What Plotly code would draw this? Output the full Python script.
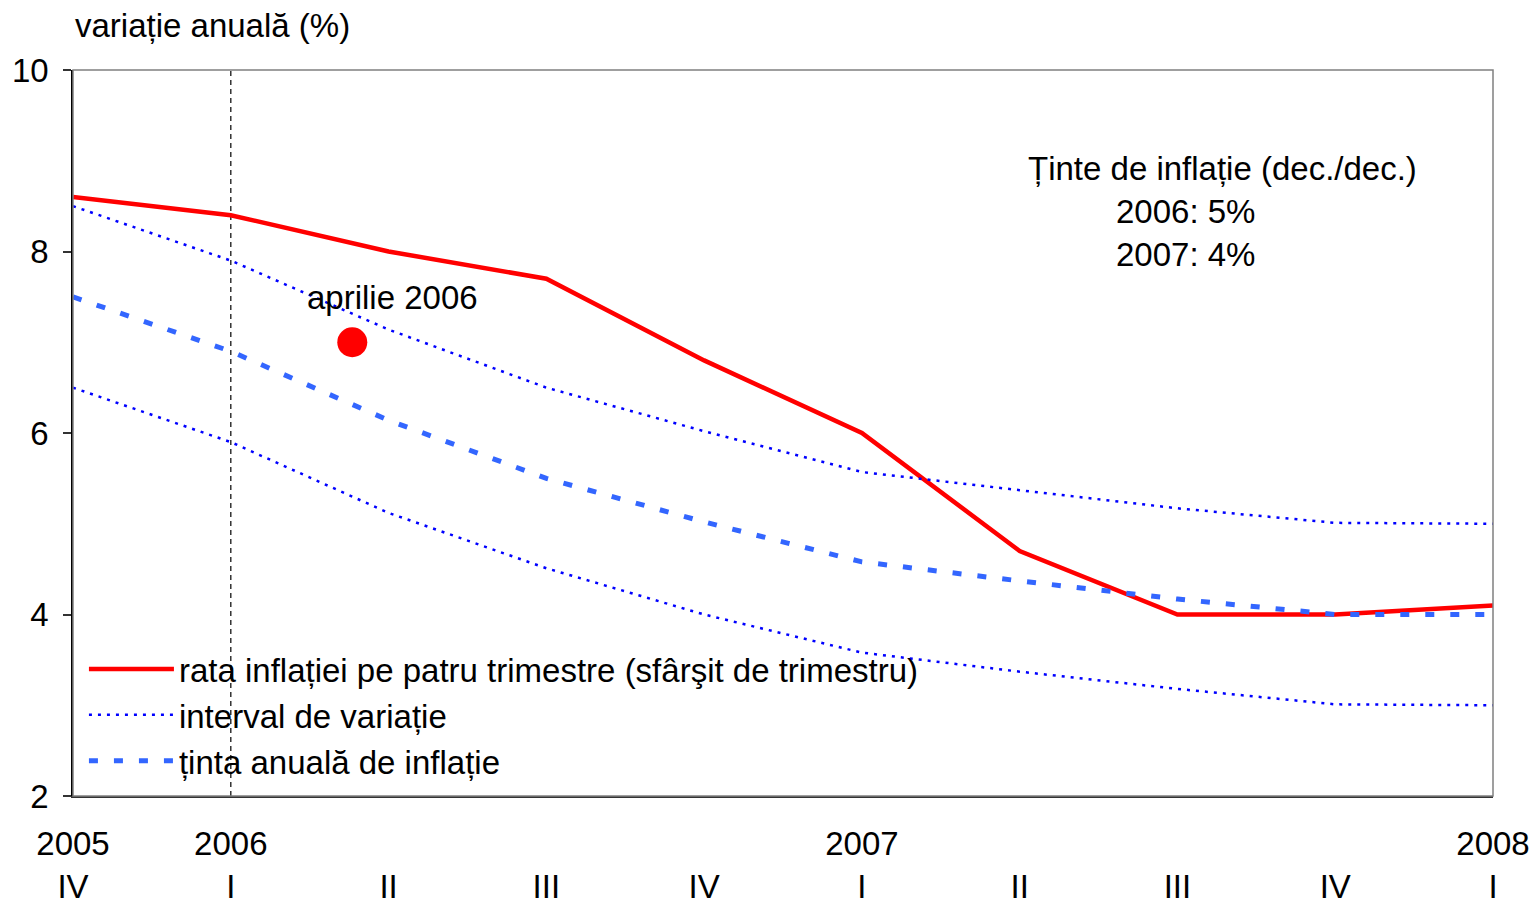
import plotly.graph_objects as go

# Quarter index positions (0 = 2005 IV ... 9 = 2008 I)
quarters = [0, 1, 2, 3, 4, 5, 6, 7, 8, 9]
tick_labels = ["2005<br>IV", "2006<br>I", " <br>II", " <br>III", " <br>IV",
               "2007<br>I", " <br>II", " <br>III", " <br>IV", "2008<br>I"]

inflation_rate = [8.6, 8.4, 8.0, 7.7, 6.8, 6.0, 4.7, 4.0, 4.0, 4.1]
target = [7.5, 6.9, 6.14, 5.5, 5.02, 4.58, 4.37, 4.17, 4.0, 4.0]
band_upper = [8.5, 7.9, 7.14, 6.5, 6.02, 5.57, 5.37, 5.17, 5.01, 5.0]
band_lower = [6.5, 5.9, 5.12, 4.51, 4.0, 3.58, 3.37, 3.18, 3.01, 3.0]

april_x = [1.77]
april_y = [7.0]
divider_x = 1  # 2006 I

FONT = "Liberation Sans, Arial, sans-serif"
FS = 33

fig = go.Figure()
fig.add_trace(go.Scatter(
    x=quarters, y=inflation_rate, mode="lines",
    name="rata inflației pe patru trimestre (sfârşit de trimestru)",
    line=dict(color="#FF0000", width=4.5)))
fig.add_trace(go.Scatter(
    x=quarters, y=band_upper, mode="lines", name="interval de variație",
    line=dict(color="#0000FF", width=2.5, dash="3px,6px")))
fig.add_trace(go.Scatter(
    x=quarters, y=band_lower, mode="lines", name="interval de variație",
    showlegend=False,
    line=dict(color="#0000FF", width=2.5, dash="3px,6px")))
fig.add_trace(go.Scatter(
    x=quarters, y=target, mode="lines", name="ținta anuală de inflație",
    line=dict(color="#3366FF", width=5, dash="9px,16px")))
fig.add_trace(go.Scatter(
    x=april_x, y=april_y, mode="markers", showlegend=False,
    marker=dict(color="#FF0000", size=30, line=dict(width=0))))

fig.add_shape(type="line", xref="x", yref="paper", x0=divider_x, x1=divider_x,
              y0=0, y1=1, line=dict(color="#333333", width=1.5, dash="5px,4px"),
              layer="below")
# frame top/right
fig.add_shape(type="rect", xref="paper", yref="paper", x0=0, x1=1, y0=0, y1=1,
              line=dict(color="#808080", width=1.5), layer="above")

fig.add_annotation(x=april_x[0], y=april_y[0], xref="x", yref="y",
                   text="aprilie 2006", showarrow=False, xshift=40, yshift=45,
                   font=dict(size=FS, color="black", family=FONT))
fig.add_annotation(x=0, y=1 + 45 / 726, xref="paper", yref="paper",
                   text="variație anuală (%)", showarrow=False,
                   xanchor="left", yanchor="middle",
                   font=dict(size=FS, color="black", family=FONT))
for txt, px, py in [("Ținte de inflație (dec./dec.)", 1026, 168),
                    ("2006: 5%", 1114, 211),
                    ("2007: 4%", 1114, 254)]:
    fig.add_annotation(x=(px - 73) / 1420, y=(796 - py) / 726,
                       xref="paper", yref="paper", text=txt, showarrow=False,
                       xanchor="left", yanchor="middle",
                       font=dict(size=FS, color="black", family=FONT))

fig.update_layout(
    width=1534, height=901,
    margin=dict(l=73, r=41, t=70, b=105, autoexpand=False),
    paper_bgcolor="white", plot_bgcolor="white",
    font=dict(family=FONT, size=FS, color="black"),
    showlegend=True,
    legend=dict(x=0.0077, y=0.2135, xanchor="left", yanchor="top",
                bgcolor="rgba(0,0,0,0)", itemwidth=85,
                font=dict(size=FS, family=FONT, color="black"),
                tracegroupgap=0),
    xaxis=dict(range=[0, 9], tickmode="array", tickvals=quarters,
               ticktext=tick_labels, showgrid=False, zeroline=False,
               showline=True, linecolor="#333333", linewidth=2,
               ticks="", ticklabelstandoff=17, automargin=False,
               tickfont=dict(size=FS, family=FONT, color="black")),
    yaxis=dict(range=[2, 10], tickmode="array", tickvals=[2, 4, 6, 8, 10],
               showgrid=False, zeroline=False, showline=True,
               linecolor="black", linewidth=1.5, automargin=False,
               ticks="outside", ticklen=8, tickcolor="#333333", tickwidth=1.5,
               ticklabelstandoff=8,
               tickfont=dict(size=FS, family=FONT, color="black")),
)

fig.write_html(
    "out.html",
    config={"displayModeBar": False},
    post_script="document.body.style.margin='0';"
                "document.body.style.overflow='hidden';",
)
